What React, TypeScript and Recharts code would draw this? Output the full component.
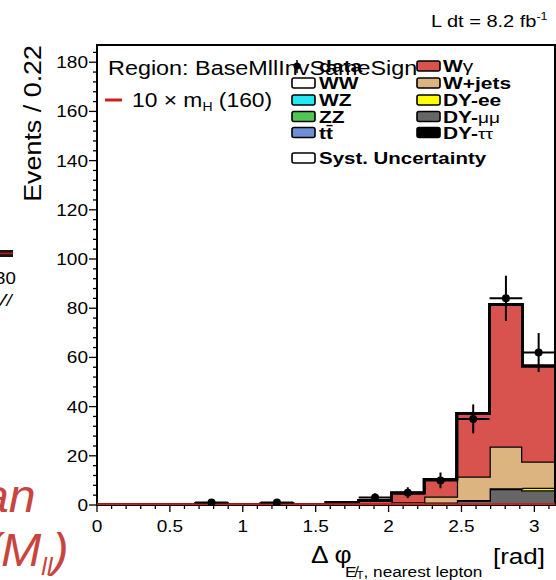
import React from "react";
import {
  ComposedChart,
  Area,
  Line,
  Scatter,
  ErrorBar,
  XAxis,
  YAxis,
  ReferenceArea,
} from "recharts";

// 14 bins of pi/14 in delta-phi
const BIN_EDGES = [
  0, 0.2244, 0.4488, 0.6732, 0.8976, 1.122, 1.3464, 1.5708, 1.7952, 2.0196,
  2.244, 2.4684, 2.6928, 2.9172, 3.1416,
];

// stacked backgrounds, bottom to top
const dyTauTau = [0, 0, 0, 0, 0, 0, 0, 0, 0, 0, 0.2, 0.3, 0.5, 0.5];
const dyMuMu = [0, 0, 0, 0, 0, 0, 0, 0, 0.2, 0.3, 0.8, 1.5, 6, 5.5];
const dyEE = [0, 0, 0, 0, 0, 0, 0, 0, 0, 0, 0, 0.2, 0.3, 1];
const wJets = [0, 0, 0, 0, 0, 0, 0, 0.2, 0.3, 0.8, 2.5, 9.6, 17, 10.7];
const wGamma = [0, 0, 0, 0.4, 0, 0.4, 0, 0.8, 1.3, 3.8, 7, 25.7, 57.7, 38.8];
const ttbar = [0, 0, 0, 0, 0, 0, 0, 0, 0, 0, 0, 0, 0, 0];
const zz = [0, 0, 0, 0, 0, 0, 0, 0, 0, 0, 0, 0, 0, 0];
const wz = [0, 0, 0, 0, 0, 0, 0, 0, 0, 0, 0, 0, 0, 0];
const ww = [0, 0, 0, 0, 0, 0, 0, 0, 0, 0, 0, 0, 0, 0];

// 10 x m_H(160) signal
const signal = [0.3, 0.3, 0.3, 0.3, 0.3, 0.3, 0.3, 0.3, 0.3, 0.3, 0.3, 0.3, 0.3, 0.3];

// observed counts and their errors (null = empty bin)
const dataCounts = [null, null, null, 1, null, 1, null, null, 3, 5, 10, 35, 84, 62];
const dataErrors = [null, null, null, 1, null, 1, null, null, 1.7, 2.2, 3.2, 5.9, 9.2, 7.9];

const X_LABELS = [0, 0.5, 1, 1.5, 2, 2.5, 3];
const Y_LABELS = [0, 20, 40, 60, 80, 100, 120, 140, 160, 180];
const Y_MAX = 187;

const STACK = [
  { key: "dytt", vals: dyTauTau, fill: "#000000" },
  { key: "dymm", vals: dyMuMu, fill: "#666666" },
  { key: "dyee", vals: dyEE, fill: "#ffff00" },
  { key: "wjets", vals: wJets, fill: "#dcb47f" },
  { key: "wgamma", vals: wGamma, fill: "#d9534e" },
  { key: "tt", vals: ttbar, fill: "#6e8ed6" },
  { key: "zz", vals: zz, fill: "#52c652" },
  { key: "wz", vals: wz, fill: "#26e8f2" },
  { key: "ww", vals: ww, fill: "#ffffff" },
];

// step data on bin edges; last edge repeats the last bin
const histRows = BIN_EDGES.map((x, i) => {
  const b = Math.min(i, 13);
  const row: Record<string, number> = { x, signal: signal[b] };
  STACK.forEach((s) => (row[s.key] = s.vals[b]));
  return row;
});

const dataPoints = dataCounts
  .map((n, i) => ({
    x: (BIN_EDGES[i] + BIN_EDGES[i + 1]) / 2,
    y: n,
    ex: (BIN_EDGES[i + 1] - BIN_EDGES[i]) / 2,
    ey: dataErrors[i],
  }))
  .filter((p) => p.y !== null);

// major ticks carry labels, minor ticks subdivide them
const xTicks = Array.from({ length: 32 }, (_, i) => i / 10);
const yTicks = Array.from({ length: 47 }, (_, i) => i * 4);

const FONT = "'Liberation Sans', Arial, Helvetica, sans-serif";

function T({
  x,
  y,
  size,
  sx = 1.18,
  anchor = "start",
  bold = false,
  italic = false,
  fill = "#000",
  rotate = 0,
  children,
}: any) {
  return (
    <text
      transform={`translate(${x},${y}) rotate(${rotate}) scale(${sx},1)`}
      fontSize={size}
      fontFamily={FONT}
      fontWeight={bold ? "bold" : "normal"}
      fontStyle={italic ? "italic" : "normal"}
      textAnchor={anchor}
      fill={fill}
    >
      {children}
    </text>
  );
}

const XTick = ({ x, y, payload }: any) => {
  const v = payload.value;
  const major = X_LABELS.some((m) => Math.abs(m - v) < 1e-6);
  return (
    <g>
      <line x1={x} x2={x} y1={y} y2={y + (major ? 7 : 4)} stroke="#000" strokeWidth={1.3} />
      {major && (
        <T x={x} y={y + 27} size={17} sx={1.12} anchor="middle">
          {String(v)}
        </T>
      )}
    </g>
  );
};

const YTick = ({ x, y, payload }: any) => {
  const v = payload.value;
  const major = Y_LABELS.includes(v);
  return (
    <g>
      <line x1={x - (major ? 8 : 4)} x2={x} y1={y} y2={y} stroke="#000" strokeWidth={1.3} />
      {major && (
        <T x={x - 9} y={y + 6} size={17} sx={1.12} anchor="end">
          {String(v)}
        </T>
      )}
    </g>
  );
};

const DataDot = ({ cx, cy }: any) => <circle cx={cx} cy={cy} r={4} fill="#000" />;

const Box = ({ x, y, fill }: any) => (
  <rect x={x} y={y - 5} width={23} height={10} rx={2} fill={fill} stroke="#000" strokeWidth={1.6} />
);

const ROWS = [66, 83, 100, 116.5, 132.5];
const LS = 16.5;
const LX = 1.27;

export default function App() {
  return (
    <div style={{ position: "absolute", left: 0, top: 0, width: 556, height: 580, background: "#fff", overflow: "hidden" }}>
      <ComposedChart
        width={556}
        height={580}
        data={histRows}
        margin={{ top: 45, right: 1, bottom: 45, left: 57 }}
      >
        <XAxis
          type="number"
          dataKey="x"
          domain={[0, Math.PI]}
          allowDataOverflow
          ticks={xTicks}
          interval={0}
          tick={XTick}
          tickLine={false}
          axisLine={false}
          tickSize={0}
          tickMargin={0}
          height={30}
        />
        <YAxis
          type="number"
          domain={[0, Y_MAX]}
          allowDataOverflow
          ticks={yTicks}
          interval={0}
          tick={YTick}
          tickLine={false}
          axisLine={false}
          tickSize={0}
          tickMargin={0}
          width={40}
        />
        {STACK.map((s) => (
          <Area
            key={s.key}
            type="stepAfter"
            dataKey={s.key}
            stackId="mc"
            fill={s.fill}
            fillOpacity={1}
            stroke="#000"
            strokeWidth={2.5}
            dot={false}
            activeDot={false}
            isAnimationActive={false}
          />
        ))}
        <Line
          type="stepAfter"
          dataKey="signal"
          stroke="#cc1f1f"
          strokeWidth={2}
          dot={false}
          activeDot={false}
          isAnimationActive={false}
        />
        <Scatter data={dataPoints} dataKey="y" shape={DataDot} isAnimationActive={false}>
          <ErrorBar dataKey="ey" direction="y" width={0} stroke="#000" strokeWidth={2} />
          <ErrorBar dataKey="ex" direction="x" width={0} stroke="#000" strokeWidth={2} />
        </Scatter>
        <ReferenceArea
          x1={0}
          x2={Math.PI}
          y1={0}
          y2={Y_MAX}
          fill="none"
          stroke="#000"
          strokeWidth={2}
          ifOverflow="visible"
        />
      </ComposedChart>

      <svg width={556} height={580} style={{ position: "absolute", left: 0, top: 0, pointerEvents: "none" }}>
        {/* luminosity */}
        <T x={431} y={27} size={16} sx={1.25}>
          L dt = 8.2 fb<tspan fontSize={10} dy={-7}>-1</tspan>
        </T>

        {/* axis titles */}
        <T x={41} y={45} size={24} sx={1.12} rotate={-90} anchor="end">
          Events / 0.22
        </T>
        <T x={311} y={563} size={24} sx={1.1}>
          Δ φ
        </T>
        <T x={345} y={577} size={15} sx={1.15}>
          E̸<tspan fontSize={10} dy={2}>T</tspan>
          <tspan dy={-2}>, nearest lepton</tspan>
        </T>
        <T x={493} y={564} size={22} sx={1.18}>
          [rad]
        </T>

        {/* region and signal legend */}
        <T x={108} y={75} size={19.5} sx={1.2}>
          Region: BaseMllInvSameSign
        </T>
        <line x1={105} x2={122} y1={100} y2={100} stroke="#cc1f1f" strokeWidth={3} />
        <T x={132} y={107} size={19.5} sx={1.17}>
          10 × m<tspan fontSize={12} dy={4}>H</tspan>
          <tspan dy={-4}> (160)</tspan>
        </T>

        {/* process legend, column 1 */}
        <circle cx={297} cy={ROWS[0]} r={3.5} fill="#000" />
        <line x1={297} x2={297} y1={ROWS[0] - 6} y2={ROWS[0] + 7} stroke="#000" strokeWidth={1.5} />
        <T x={319} y={ROWS[0] + 6} size={LS} bold sx={LX}>data</T>
        <Box x={292} y={ROWS[1]} fill="#ffffff" />
        <T x={319} y={ROWS[1] + 6} size={LS} bold sx={LX}>WW</T>
        <Box x={292} y={ROWS[2]} fill="#26e8f2" />
        <T x={319} y={ROWS[2] + 6} size={LS} bold sx={LX}>WZ</T>
        <Box x={292} y={ROWS[3]} fill="#52c652" />
        <T x={319} y={ROWS[3] + 6} size={LS} bold sx={LX}>ZZ</T>
        <Box x={292} y={ROWS[4]} fill="#6e8ed6" />
        <T x={319} y={ROWS[4] + 6} size={LS} bold sx={LX}>tt̄</T>
        <Box x={292} y={158} fill="#ffffff" />
        <T x={319} y={164} size={LS} bold sx={1.24}>Syst. Uncertainty</T>

        {/* process legend, column 2 */}
        <Box x={417} y={ROWS[0]} fill="#d9534e" />
        <T x={443} y={ROWS[0] + 6} size={LS} bold sx={LX}>
          W<tspan fontWeight="normal">γ</tspan>
        </T>
        <Box x={417} y={ROWS[1]} fill="#dcb47f" />
        <T x={443} y={ROWS[1] + 6} size={LS} bold sx={LX}>W+jets</T>
        <Box x={417} y={ROWS[2]} fill="#ffff00" />
        <T x={443} y={ROWS[2] + 6} size={LS} bold sx={LX}>DY-ee</T>
        <Box x={417} y={ROWS[3]} fill="#666666" />
        <T x={443} y={ROWS[3] + 6} size={LS} bold sx={LX}>
          DY-<tspan fontWeight="normal" fontSize={15}>μμ</tspan>
        </T>
        <Box x={417} y={ROWS[4]} fill="#000000" />
        <T x={443} y={ROWS[4] + 6} size={LS} bold sx={LX}>
          DY-<tspan fontWeight="normal" fontSize={15}>ττ</tspan>
        </T>

        {/* pieces of the neighbouring panel */}
        <rect x={0} y={250} width={13} height={7} fill="#151515" />
        <rect x={0} y={252.5} width={13} height={1.8} fill="#b01818" />
        <T x={-5} y={284} size={17} sx={1.1}>30</T>
        <T x={-6} y={306} size={17} sx={1.1} italic>V/</T>
        <T x={-18} y={512} size={46} sx={1.05} italic fill="#c8453f">an</T>
        <T x={-15} y={566} size={46} sx={1.05} italic fill="#c8453f">
          (M<tspan fontSize={24} dy={9}>ll</tspan>
          <tspan dy={-9}>)</tspan>
        </T>
      </svg>
    </div>
  );
}
